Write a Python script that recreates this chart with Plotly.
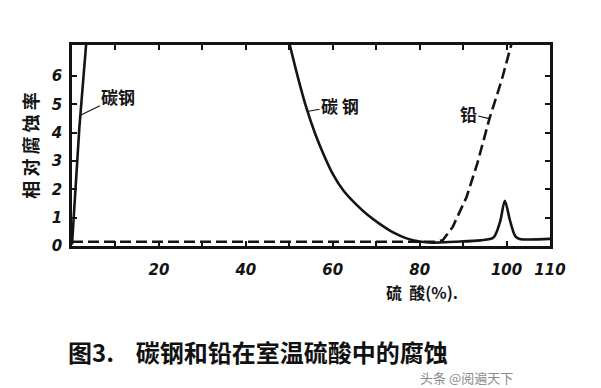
import plotly.graph_objects as go

# Carbon steel, dilute-acid branch (left)
steel_left_x = [0.0, 1.7, 3.4]
steel_left_y = [0.05, 4.2, 7.4]

# Carbon steel, concentrated branch
steel_x = [49.8, 52.0, 54.0, 56.0, 58.0, 60.0, 62.5, 65.5, 68.0, 70.8, 74.0, 77.0, 80.0, 83.0,
           88.0, 94.0, 97.0, 98.5, 99.6, 100.8, 102.0, 103.0, 110.0]
steel_y = [7.3, 5.95, 4.85, 3.95, 3.2, 2.55, 1.95, 1.45, 1.1, 0.78, 0.47, 0.27, 0.16, 0.12,
           0.15, 0.2, 0.3, 0.85, 1.6, 0.9, 0.35, 0.25, 0.25]

# Lead (dashed)
lead_x = [0.0, 20.0, 40.0, 60.0, 80.0, 83.5, 85.3, 87.6, 90.8, 93.3, 96.1, 98.9, 101.6]
lead_y = [0.15, 0.15, 0.15, 0.15, 0.15, 0.15, 0.2, 0.67, 1.73, 2.93, 4.52, 5.87, 7.4]

x_tickvals = [0, 10, 20, 30, 40, 50, 60, 70, 80, 90, 100, 110]
x_ticktext = ["", "", "20", "", "40", "", "60", "", "80", "", "100", "110"]
y_tickvals = [0, 1, 2, 3, 4, 5, 6]
y_ticktext = ["0", "1", "2", "3", "4", "5", "6"]

ink = "#141414"
cjk = "Noto Sans CJK SC"

fig = go.Figure()
fig.add_trace(go.Scatter(x=steel_left_x, y=steel_left_y, mode="lines",
                         line=dict(color=ink, width=2.6), showlegend=False))
fig.add_trace(go.Scatter(x=steel_x, y=steel_y, mode="lines",
                         line=dict(color=ink, width=2.6, shape="spline", smoothing=0.8),
                         showlegend=False))
fig.add_trace(go.Scatter(x=lead_x, y=lead_y, mode="lines",
                         line=dict(color=ink, width=2.6, dash="11px,5px"),
                         showlegend=False))

label_font = dict(family=cjk, size=17, color=ink, weight="bold")
fig.add_annotation(x=1.7, y=4.6, ax=39, ay=-19, text="碳钢", showarrow=True,
                   arrowhead=0, arrowwidth=1.2, arrowcolor=ink, font=label_font)
fig.add_annotation(x=54.1, y=4.75, ax=33, ay=-6, text="碳 钢", showarrow=True,
                   arrowhead=0, arrowwidth=1.2, arrowcolor=ink, font=label_font)
fig.add_annotation(x=96.0, y=4.5, ax=-21, ay=-5, text="铅", showarrow=True,
                   arrowhead=0, arrowwidth=1.2, arrowcolor=ink, font=label_font)

# x-axis title
fig.add_annotation(xref="paper", yref="paper", x=(422 - 72) / 478, y=-(292 - 246) / 201,
                   text="硫  酸(%).", showarrow=False, xanchor="center", yanchor="middle",
                   font=dict(family=cjk, size=16, color=ink, weight="bold"))
# caption
fig.add_annotation(xref="paper", yref="paper", x=(66 - 72) / 478, y=-(351 - 246) / 201,
                   text="图3.    碳钢和铅在室温硫酸中的腐蚀", showarrow=False,
                   xanchor="left", yanchor="middle",
                   font=dict(family=cjk, size=24, color="#111111", weight="bold"))
# watermark
fig.add_annotation(xref="paper", yref="paper", x=(418 - 72) / 478, y=-(377 - 246) / 201,
                   text="头条 @阅遍天下", showarrow=False, xanchor="left", yanchor="middle",
                   font=dict(family=cjk, size=13, color="#8a8a8a"))

tick_font = dict(family="DejaVu Sans", size=15, color=ink, style="italic", weight="bold")
fig.update_xaxes(range=[0, 110], tickvals=x_tickvals, ticktext=x_ticktext,
                 ticks="inside", ticklen=5, tickwidth=1.5, tickcolor=ink,
                 showline=True, linewidth=2.5, linecolor=ink, mirror="ticks",
                 showgrid=False, zeroline=False, tickfont=tick_font, ticklabelstandoff=8)
fig.update_yaxes(range=[0, 7.1], tickvals=y_tickvals, ticktext=y_ticktext,
                 ticks="inside", ticklen=5, tickwidth=1.5, tickcolor=ink,
                 showline=True, linewidth=2.5, linecolor=ink, mirror="ticks",
                 showgrid=False, zeroline=False, tickfont=tick_font, ticklabelstandoff=4,
                 title=dict(text="相 对 腐 蚀 率", standoff=8,
                            font=dict(family=cjk, size=18, color=ink, weight="bold")))

fig.update_layout(width=601, height=388, margin=dict(l=72, r=51, t=45, b=142),
                  paper_bgcolor="white", plot_bgcolor="white")

fig.write_html("out.html")
